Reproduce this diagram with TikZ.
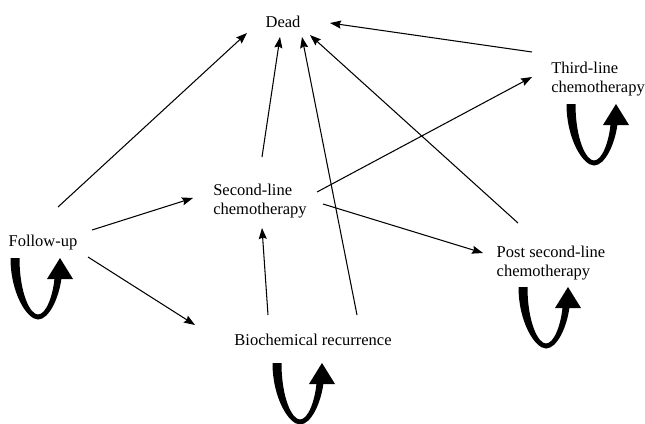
\documentclass[tikz,border=0pt]{standalone}
\usepackage{fontspec}
\setmainfont{Liberation Serif}
\usetikzlibrary{arrows.meta,calc}
\begin{document}
\begin{tikzpicture}[x=1pt,y=-1pt,
  state/.style={inner sep=0pt,align=left,font=\fontsize{16.5}{19}\selectfont},
  arr/.style={line width=1.05pt,-{Stealth[length=11pt,width=8pt,inset=1.5pt]}},
  selfloop/.pic={
    \fill (-4.5,0) .. controls (-4.5,35) and (12,61.5) .. (23,61.5)
      .. controls (34,61.5) and (44,40) .. (46.5,20)
      -- (39.5,20) .. controls (38,38) and (31,56.5) .. (23,56.5)
      .. controls (15,56.5) and (4.5,35) .. (4.5,0) -- cycle;
    \fill (45,0) -- (58,21) -- (32,21) -- cycle;
  }]
\useasboundingbox (0,0) rectangle (645,423);
\fill[white] (0,0) rectangle (645,423);
\node[state] (dead)  at (283,22)  {Dead};
\node[state] (third) at (598,79)  {Third-line\\chemotherapy};
\node[state] (sec)   at (260,201) {Second-line\\chemotherapy};
\node[state] (fu)    at (43,243)  {Follow-up};
\node[state] (post)  at (551,263) {Post second-line\\chemotherapy};
\node[state] (bio)   at (313,340) {Biochemical recurrence};
% connectors
\draw[arr] ($(fu)+(15,-36)$) -- ($(dead)+(-36,11)$);
\draw[arr] ($(fu)+(49,-13)$) -- ($(sec)+(-67,-3)$);
\draw[arr] ($(fu)+(45,14)$) -- ($(bio)+(-118,-15)$);
\draw[arr] ($(sec)+(2,-44)$) -- ($(dead)+(-3,15)$);
\draw[arr] ($(sec)+(57,-9)$) -- ($(third)+(-66,-2)$);
\draw[arr] ($(sec)+(63,3)$) -- ($(post)+(-68,-10)$);
\draw[arr] ($(bio)+(-45,-25)$) -- ($(sec)+(2,27)$);
\draw[arr] ($(bio)+(44,-25)$) -- ($(dead)+(19,15)$);
\draw[arr] ($(post)+(-33,-40)$) -- ($(dead)+(27,13)$);
\draw[arr] ($(third)+(-66,-27)$) -- ($(dead)+(47,1)$);
% self loops
\pic at ($(fu)+(-28,15)$) {selfloop};
\pic at ($(third)+(-27,25)$) {selfloop};
\pic at ($(post)+(-28,24)$) {selfloop};
\pic at ($(bio)+(-36,23)$) {selfloop};
\end{tikzpicture}
\end{document}
